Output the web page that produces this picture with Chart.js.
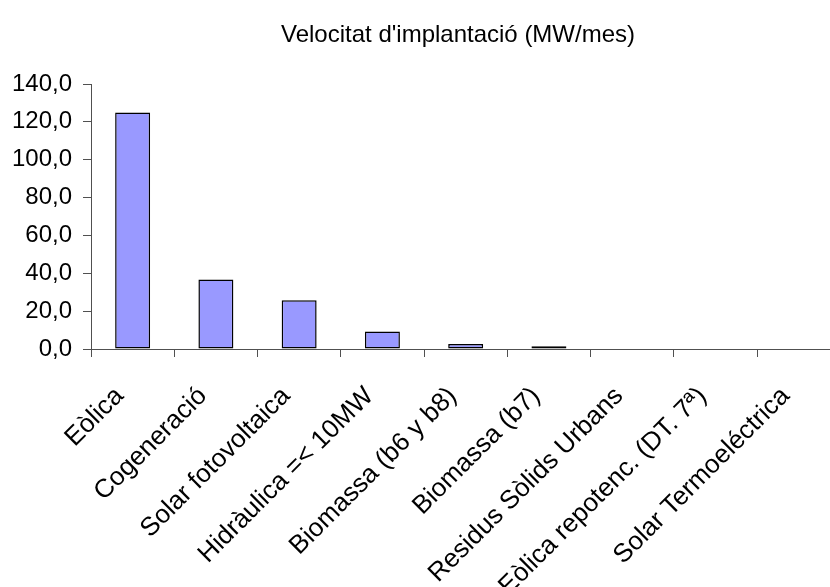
<!DOCTYPE html>
<html>
<head>
<meta charset="utf-8">
<script src="https://cdn.jsdelivr.net/npm/chart.js@4.4.1/dist/chart.umd.min.js"></script>
<style>
  html, body { margin: 0; padding: 0; background: #fff; overflow: hidden; }
  #wrap { width: 830px; height: 587px; overflow: hidden; }
</style>
</head>
<body>
<div id="wrap">
  <canvas id="velocitat-chart" width="845" height="587"></canvas>
</div>
<script>
const chartTitle = "Velocitat d'implantació (MW/mes)";

const categories = ['Eòlica', 'Cogeneració', 'Solar fotovoltaica', 'Hidràulica =< 10MW',
  'Biomassa (b6 y b8)', 'Biomassa (b7)', 'Residus Sòlids Urbans',
  'Eòlica repotenc. (DT. 7ª)', 'Solar Termoeléctrica'];
const mwPerMonth = [125.0, 36.7, 25.8, 9.2, 2.7, 1.5, 0, 0, 0];
const yTickValues = [0, 20, 40, 60, 80, 100, 120, 140];
const yTickLabels = ['0,0', '20,0', '40,0', '60,0', '80,0', '100,0', '120,0', '140,0'];

const axisColor = '#505050';

// title is drawn by hand so it sits where the original has it
const titlePlugin = {
  id: 'manualTitle',
  afterDraw(chart) {
    const ctx = chart.ctx;
    ctx.save();
    ctx.font = '24px "Liberation Sans", Arial, sans-serif';
    ctx.fillStyle = '#000';
    ctx.textAlign = 'center';
    ctx.textBaseline = 'middle';
    ctx.fillText(chartTitle, 458, 35);
    ctx.restore();
  }
};

const contenedor = document.getElementById('velocitat-chart');
new Chart(contenedor, {
  type: 'bar',
  data: {
    labels: categories,
    datasets: [{
      label: chartTitle,
      data: mwPerMonth,
      backgroundColor: '#9999ff',
      borderColor: '#000',
      borderWidth: 1.5,
      borderSkipped: false,
      categoryPercentage: 1,
      barPercentage: 0.42
    }]
  },
  options: {
    responsive: false,
    animation: false,
    layout: {
      padding: { top: 84, right: 4, left: 0, bottom: 0 }
    },
    plugins: {
      legend: { display: false },
      tooltip: { enabled: false },
      title: { display: false }
    },
    scales: {
      x: {
        grid: {
          display: true,
          drawOnChartArea: false,
          offset: true,
          tickLength: 8,
          color: axisColor,
          lineWidth: 1
        },
        border: { color: axisColor, width: 1 },
        ticks: {
          color: '#000',
          font: { family: '"Liberation Sans", Arial, sans-serif', size: 26 },
          minRotation: 45,
          maxRotation: 45,
          autoSkip: false,
          labelOffset: -13,
          padding: 24
        },
        afterFit: function(scale) {
          scale.height = 587 - 349;
        }
      },
      y: {
        min: 0,
        max: 140,
        afterBuildTicks: function(scale) {
          scale.ticks = yTickValues.map(v => ({ value: v }));
        },
        grid: {
          drawOnChartArea: false,
          tickLength: 8,
          color: axisColor
        },
        border: { color: axisColor, width: 1 },
        ticks: {
          color: '#000',
          font: { family: '"Liberation Sans", Arial, sans-serif', size: 24 },
          padding: 11,
          callback: function(value) {
            return yTickLabels[yTickValues.indexOf(value)];
          }
        },
        afterFit: function(scale) {
          scale.width = 91;
        }
      }
    }
  },
  plugins: [titlePlugin]
});
</script>
</body>
</html>
